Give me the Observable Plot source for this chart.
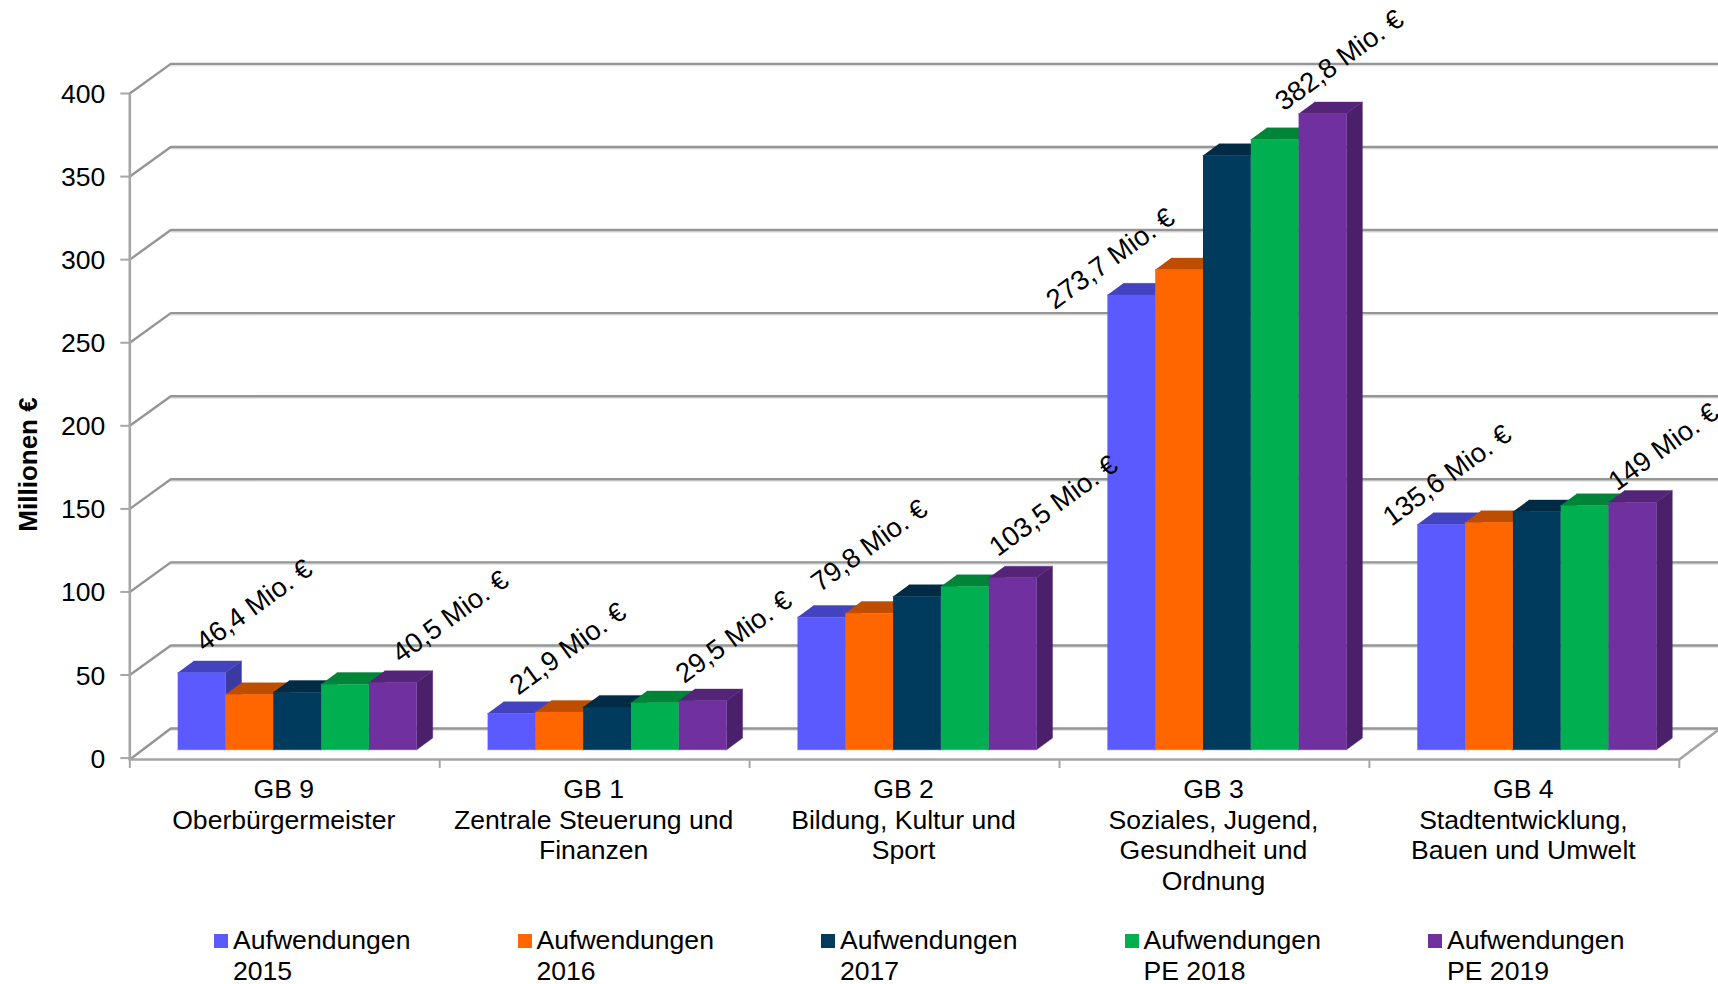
<!DOCTYPE html>
<html lang="de">
<head>
<meta charset="utf-8">
<script src="https://cdn.jsdelivr.net/npm/d3@7"></script>
<script src="https://cdn.jsdelivr.net/npm/@observablehq/plot@0.6"></script>
<style>
html,body{margin:0;padding:0;background:#fff;width:1718px;height:984px;overflow:hidden;font-family:"Liberation Sans",Arial,sans-serif;color:#000}
svg{display:block;overflow:hidden}
#legend{position:absolute;left:214px;top:925px;display:flex}
.item{width:303.5px;display:flex;align-items:flex-start;font-size:26.6px;line-height:30.7px}
.sw{width:14px;height:14px;margin-top:8.5px;margin-right:5px;flex:none}
</style>
</head>
<body>
<div id="chart"></div>
<div id="legend"></div>
<script>
// ---- data ----
const groups = ["GB 9\nOberbürgermeister","GB 1\nZentrale Steuerung und\nFinanzen","GB 2\nBildung, Kultur und\nSport","GB 3\nSoziales, Jugend,\nGesundheit und\nOrdnung","GB 4\nStadtentwicklung,\nBauen und Umwelt"];
const seriesNames = ["Aufwendungen\n2015","Aufwendungen\n2016","Aufwendungen\n2017","Aufwendungen\nPE 2018","Aufwendungen\nPE 2019"];
const a2015 = [46.4, 21.9, 79.8, 273.7, 135.6];
const a2016 = [33.3, 22.7, 82.2, 288.9, 136.8];
const a2017 = [34.7, 25.7, 92.3, 357.7, 143.3];
const pe2018 = [39.5, 28.3, 98.3, 367.3, 147.0];
const pe2019 = [40.5, 29.5, 103.5, 382.8, 149];
const yTicks = [0,50,100,150,200,250,300,350,400];

// ---- styling ----
const frontColors = ["#5a5aff","#ff6600","#003a5c","#00b050","#7030a0"];
const topColors   = ["#4343bf","#bf4d00","#002b45","#008438","#542478"];
const sideColors  = ["#3a3aa3","#a34200","#00253b","#007130","#4a206a"];
const gridColor = "#959595", axisColor = "#a6a6a6";
const font = "Liberation Sans, Arial, sans-serif", fs = 26.6;

// ---- layout of the fake 3D, in scale units ----
const X0 = 129.3, STEP = 309.9, Y0 = 757.6, PERU = 664.6/400, W = 1718, H = 900, FLOORY = 759;
const wallDX = 41/STEP, wallDY = 29.6/PERU;    // depth of the floor
const barDX = 16/STEP, barDY = 11.7/PERU;      // depth of a bar
const lift = 8.3/PERU;                         // bars stand inside the floor
const barStart = 47.9/STEP, barW = 47.8/STEP;
const floorFront = (Y0-FLOORY)/PERU;
// centres of the rotated data labels (hand placed in the original), [group, series, xUnits, yUnits]
const labelSpots = [
 [0,0,.4016,91.8],[0,4,1.0348,85.0],[1,0,1.4140,65.8],[1,4,1.9491,72.8],[2,0,2.3862,127.8],
 [2,4,2.9807,151.8],[3,0,3.1645,300.5],[3,4,3.9037,419.9],[4,0,4.2511,170.1],[4,4,4.9491,187.2]];

const table = [a2015,a2016,a2017,pe2018,pe2019];

// bar faces as polygons, in draw order
const polys = [];
groups.forEach((_,g)=>table.forEach((vals,s)=>{
  const x0 = g+barStart+s*barW, x1 = x0+barW, b = lift, t = lift+vals[g];
  const add = (id,fill,pts)=>pts.forEach(([x,y])=>polys.push({id:`${g}-${s}-${id}`,fill,x,y}));
  add("side",sideColors[s],[[x1,b],[x1+barDX,b+barDY],[x1+barDX,t+barDY],[x1,t]]);
  add("top",topColors[s],[[x0,t],[x1,t],[x1+barDX,t+barDY],[x0+barDX,t+barDY]]);
  add("front",frontColors[s],[[x0,b],[x1,b],[x1,t],[x0,t]]);
}));

// wall grid lines: diagonal from the axis, then along the back wall
const xMax = (W-X0)/STEP;
const grid = yTicks.flatMap(v=>[
  {id:v,x:0,y:v?v:floorFront},{id:v,x:wallDX,y:v+wallDY},{id:v,x:xMax,y:v+wallDY}]);
const gridBack = yTicks.flatMap(v=>[{id:v,x:wallDX,y:v+wallDY},{id:v,x:xMax,y:v+wallDY}]);

const labels = labelSpots.map(([g,s,x,y])=>({x,y,text:String(table[s][g]).replace(".",",")+" Mio. €"}));

const chart = Plot.plot({
  width:W,height:H,
  marginLeft:X0,marginRight:0,marginTop:0,marginBottom:H-FLOORY,
  style:{fontFamily:font,fontSize:fs+"px",background:"#fff",color:"#000"},
  x:{type:"linear",domain:[0,xMax],range:[X0,W],axis:null},
  y:{type:"linear",domain:[0,400],range:[Y0,Y0-400*PERU],axis:null},
  marks:[
    Plot.line(gridBack,{x:"x",y:"y",z:"id",dy:1.8,stroke:"#e4e4e4",strokeWidth:1.6,curve:"linear"}),
    Plot.line(grid,{x:"x",y:"y",z:"id",stroke:gridColor,strokeWidth:2.4,curve:"linear"}),
    // floor: front edge and right-hand diagonal
    Plot.line([[0,floorFront],[5,floorFront],[5+wallDX,wallDY]],{x:d=>d[0],y:d=>d[1],stroke:axisColor,strokeWidth:2.6}),
    // value axis line
    Plot.ruleX([0],{y1:floorFront,y2:400,stroke:axisColor,strokeWidth:2.6}),
    Plot.axisY({anchor:"left",ticks:yTicks,tickSize:9,stroke:axisColor,strokeWidth:2,tickFormat:()=>"",label:null}),
    Plot.axisY({anchor:"left",ticks:yTicks,tickSize:0,tickPadding:24.5,dy:1,fontSize:fs,tickFormat:d=>String(d),label:null}),
    Plot.axisX({anchor:"bottom",ticks:[0,1,2,3,4,5],tickSize:9,stroke:axisColor,strokeWidth:2,tickFormat:()=>"",label:null}),
    Plot.axisX({anchor:"bottom",ticks:groups.map((_,i)=>i+.5),tickSize:0,tickPadding:17,dx:-1,fontSize:fs,lineHeight:1.15,lineAnchor:"top",tickFormat:(d,i)=>groups[i],label:null}),
    Plot.line(polys,{x:"x",y:"y",z:"id",fill:"fill",stroke:"fill",strokeWidth:.4,curve:"linear"}),
    Plot.text(labels,{x:"x",y:"y",text:"text",rotate:-36,fontSize:27.4,fill:"#000",textAnchor:"middle"}),
    Plot.text(["Millionen €"],{x:[(28.6-X0)/STEP],y:[(Y0-464)/PERU],text:d=>d,rotate:-90,fontSize:26,fontWeight:"bold",fill:"#000",textAnchor:"middle"})
  ]
});
document.getElementById("chart").append(chart);

const legend = document.getElementById("legend");
seriesNames.forEach((n,i)=>{
  const it = document.createElement("div"); it.className="item";
  const sw = document.createElement("div"); sw.className="sw"; sw.style.background=frontColors[i];
  const t = document.createElement("div"); t.style.whiteSpace="pre"; t.textContent=n;
  it.append(sw,t); legend.append(it);
});
</script>
</body>
</html>
